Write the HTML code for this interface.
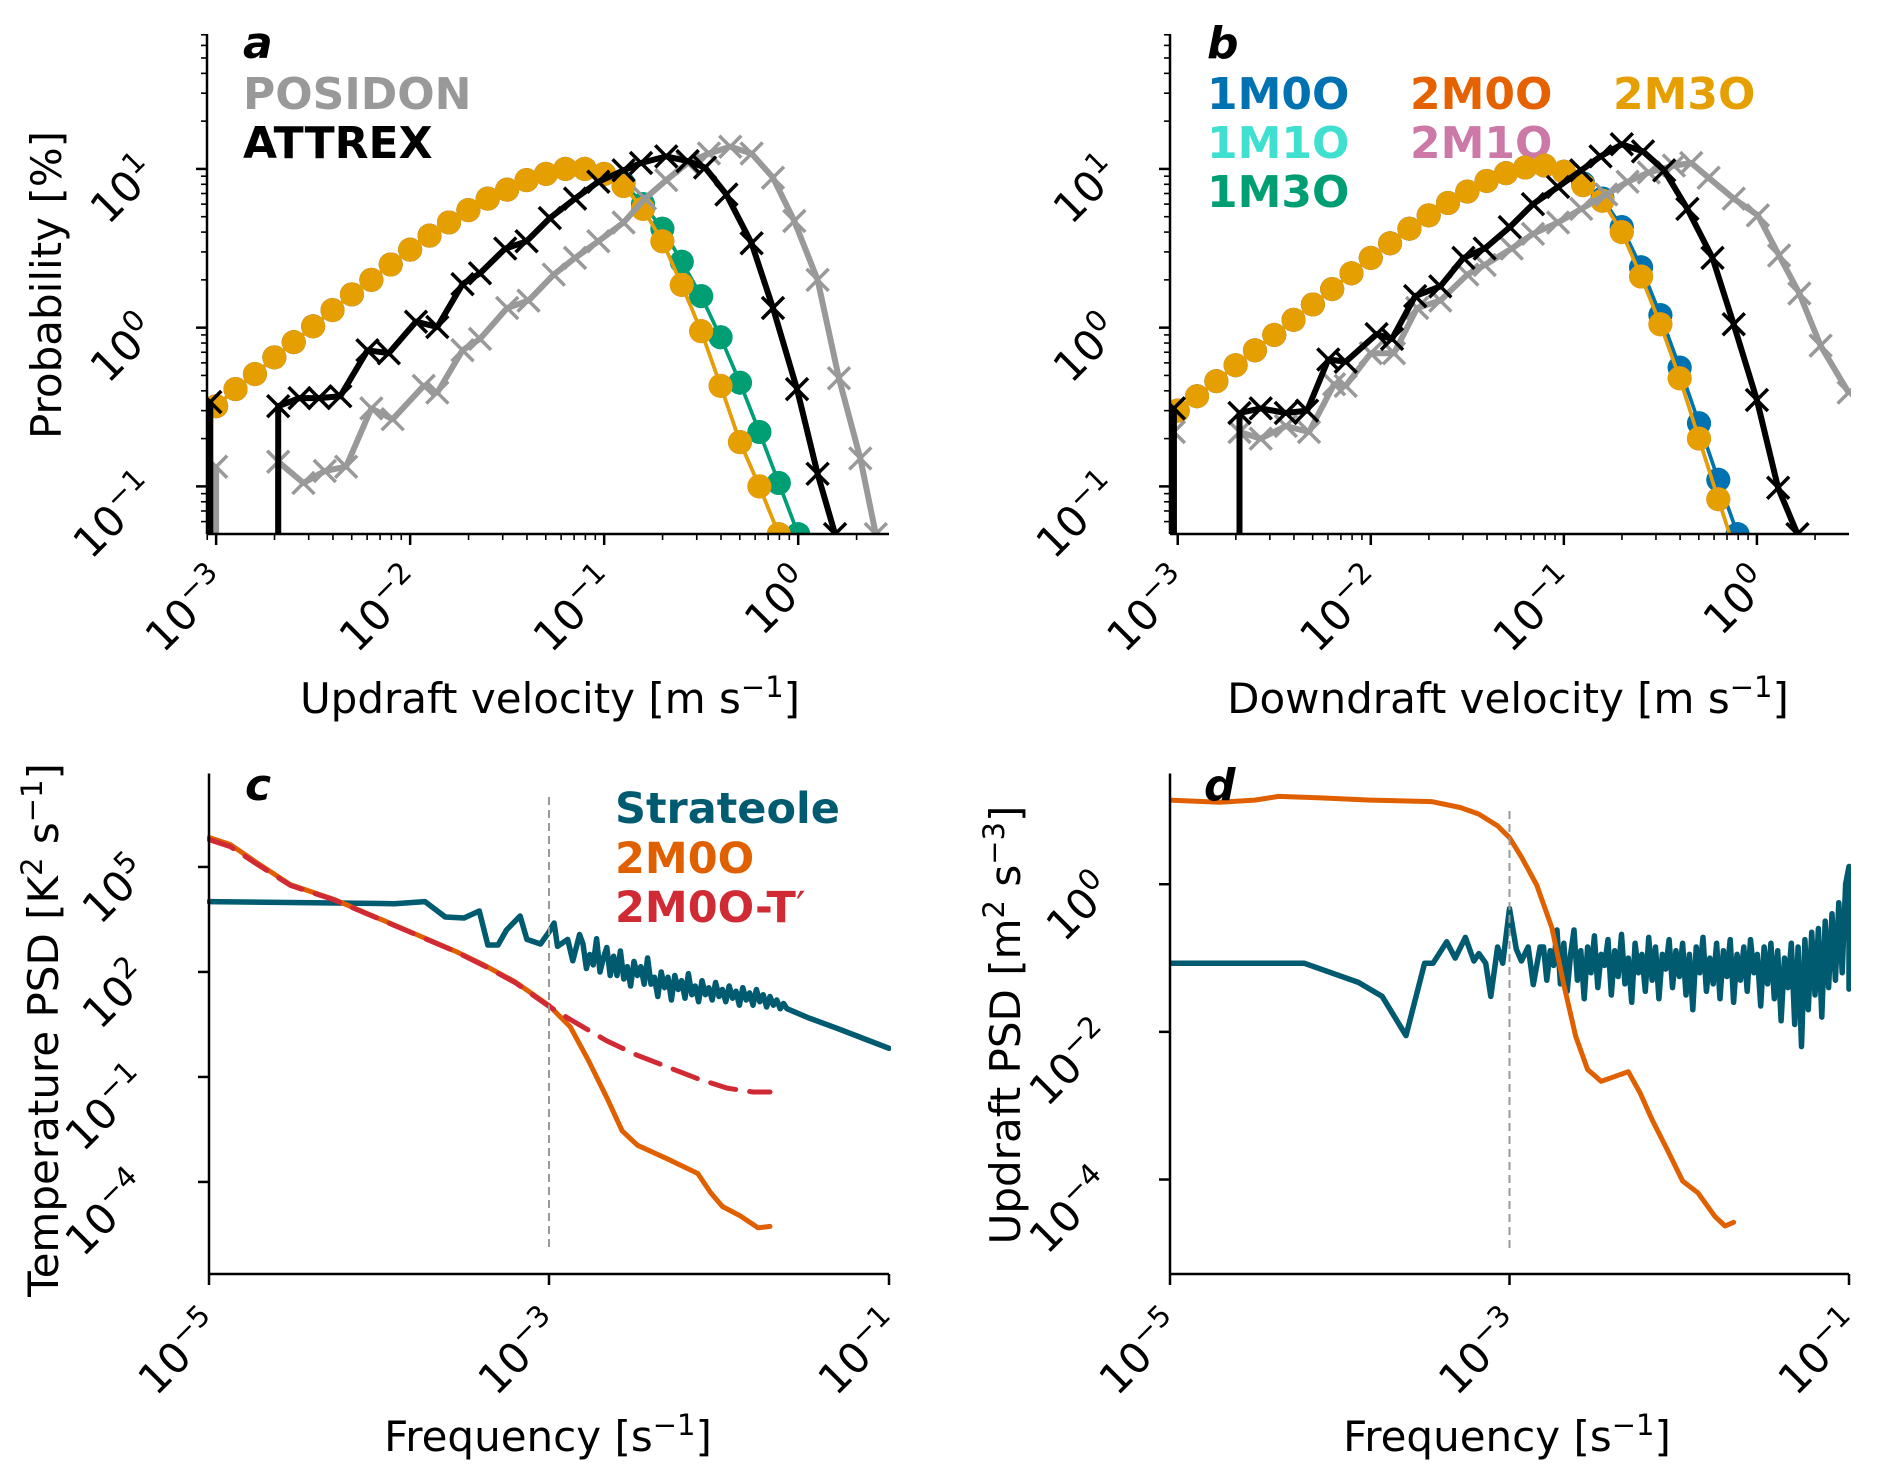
<!DOCTYPE html>
<html><head><meta charset="utf-8"><title>Vertical velocity distributions and PSD</title>
<style>
html,body{margin:0;padding:0;background:#fff;}
svg{display:block;font-family:"DejaVu Sans","Liberation Sans",sans-serif;}
</style></head>
<body>
<svg id="chart" xmlns="http://www.w3.org/2000/svg" width="1892" height="1476" viewBox="0 0 1892 1476">
<rect x="0" y="0" width="1892" height="1476" fill="#fff"/>
<defs>
<clipPath id="clipA"><rect x="207" y="20" width="684" height="514"/></clipPath>
<clipPath id="clipB"><rect x="1170" y="20" width="681" height="514"/></clipPath>
<clipPath id="clipC"><rect x="207" y="760" width="684" height="514"/></clipPath>
<clipPath id="clipD"><rect x="1170" y="760" width="681" height="514"/></clipPath>
</defs>
<text x="243" y="58" font-size="44" font-weight="bold" font-style="italic">a</text>
<text x="243" y="109" font-size="44" font-weight="bold" fill="#999999">POSIDON</text>
<text x="243" y="158" font-size="44" font-weight="bold" fill="#000">ATTREX</text>
<text transform="translate(61,285) rotate(-90)" text-anchor="middle" font-size="42">Probability [%]</text>
<text x="550" y="713" text-anchor="middle" font-size="42">Updraft velocity [m s<tspan dy="-16" font-size="29">−1</tspan><tspan dy="16">]</tspan></text>

<text x="1207" y="58" font-size="44" font-weight="bold" font-style="italic">b</text>
<text x="1207" y="109" font-size="44" font-weight="bold" fill="#0072B2">1M0O</text>
<text x="1410" y="109" font-size="44" font-weight="bold" fill="#E66100">2M0O</text>
<text x="1613" y="109" font-size="44" font-weight="bold" fill="#E69F00">2M3O</text>
<text x="1207" y="158" font-size="44" font-weight="bold" fill="#40E0D0">1M1O</text>
<text x="1410" y="158" font-size="44" font-weight="bold" fill="#CC79A7">2M1O</text>
<text x="1207" y="207" font-size="44" font-weight="bold" fill="#009E73">1M3O</text>
<text x="1508" y="713" text-anchor="middle" font-size="42">Downdraft velocity [m s<tspan dy="-16" font-size="29">−1</tspan><tspan dy="16">]</tspan></text>

<text x="245" y="800" font-size="44" font-weight="bold" font-style="italic">c</text>
<text x="615" y="823" font-size="43" font-weight="bold" fill="#005A70">Strateole</text>
<text x="615" y="873" font-size="43" font-weight="bold" fill="#E06000">2M0O</text>
<text x="615" y="922" font-size="43" font-weight="bold" fill="#D02A35">2M0O-T<tspan font-weight="normal">′</tspan></text>
<text transform="translate(58,1030) rotate(-90)" text-anchor="middle" font-size="42">Temperature PSD [K<tspan dy="-16" font-size="29">2</tspan><tspan dy="16"> s</tspan><tspan dy="-16" font-size="29">−1</tspan><tspan dy="16">]</tspan></text>
<text x="548" y="1451" text-anchor="middle" font-size="42">Frequency [s<tspan dy="-16" font-size="29">−1</tspan><tspan dy="16">]</tspan></text>

<text transform="translate(1020,1025) rotate(-90)" text-anchor="middle" font-size="42">Updraft PSD [m<tspan dy="-16" font-size="29">2</tspan><tspan dy="16"> s</tspan><tspan dy="-16" font-size="29">−3</tspan><tspan dy="16">]</tspan></text>
<text x="1507" y="1451" text-anchor="middle" font-size="42">Frequency [s<tspan dy="-16" font-size="29">−1</tspan><tspan dy="16">]</tspan></text>
</svg>
<script>
// ---------- Panel a/b data (velocity log10 exponents, probability in %) ----------
const modelLogV = [-3.0,-2.9,-2.8,-2.7,-2.6,-2.5,-2.4,-2.3,-2.2,-2.1,-2.0,-1.9,-1.8,-1.7,-1.6,-1.5,-1.4,-1.3,-1.2,-1.1,-1.0,-0.9,-0.8,-0.7,-0.6,-0.5,-0.4,-0.3,-0.2,-0.1,0.0];
const aNarrow = [0.32,0.41,0.51,0.65,0.81,1.02,1.29,1.62,2.0,2.5,3.1,3.8,4.6,5.5,6.5,7.4,8.5,9.3,10,10,9.3,7.8,5.6,3.5,1.86,0.95,0.43,0.19,0.10,0.05];
const aWide = [0.32,0.41,0.51,0.65,0.81,1.02,1.29,1.62,2.0,2.5,3.1,3.8,4.6,5.5,6.5,7.4,8.5,9.3,10,10,9.3,8.1,6.0,4.2,2.6,1.58,0.87,0.45,0.22,0.105,0.05];
const bNarrow = [0.30,0.37,0.46,0.58,0.72,0.9,1.12,1.4,1.75,2.2,2.75,3.4,4.2,5.1,6.1,7.2,8.4,9.4,10.2,10.5,9.6,7.9,6.3,4.0,2.1,1.05,0.48,0.20,0.083,0.035];
const bWide = [0.30,0.37,0.46,0.58,0.72,0.9,1.12,1.4,1.75,2.2,2.75,3.4,4.2,5.1,6.1,7.2,8.4,9.4,10.2,10.5,9.6,8.1,6.5,4.3,2.4,1.2,0.56,0.25,0.11,0.05,0.02];

const attrexALogV = [-3.03,-2.9,-2.8,-2.68,-2.57,-2.47,-2.36,-2.22,-2.11,-1.97,-1.86,-1.73,-1.64,-1.51,-1.40,-1.28,-1.15,-1.03,-0.90,-0.81,-0.68,-0.57,-0.48,-0.37,-0.24,-0.13,-0.006,0.10,0.19];
const attrexAProb = [0.34,0,0,0.32,0.36,0.36,0.37,0.72,0.69,1.09,1.01,1.88,2.2,3.15,3.5,4.9,6.5,8.3,9.8,10.9,12.0,11.2,10.2,6.9,3.4,1.33,0.41,0.12,0.05];
const posidonALogV = [-3.0,-2.9,-2.8,-2.68,-2.55,-2.44,-2.33,-2.20,-2.09,-1.93,-1.86,-1.73,-1.64,-1.50,-1.39,-1.26,-1.15,-1.03,-0.90,-0.79,-0.68,-0.57,-0.46,-0.35,-0.24,-0.13,-0.02,0.10,0.21,0.32,0.40];
const posidonAProb = [0.133,0,0,0.143,0.105,0.125,0.133,0.31,0.265,0.43,0.39,0.72,0.85,1.33,1.48,2.16,2.75,3.5,4.6,6.5,8.5,10.9,12.5,13.8,12.5,8.8,4.7,2.0,0.48,0.15,0.05];
const attrexBLogV = [-3.02,-2.9,-2.8,-2.68,-2.57,-2.44,-2.33,-2.22,-2.13,-1.97,-1.89,-1.77,-1.64,-1.52,-1.41,-1.28,-1.16,-1.03,-0.91,-0.81,-0.70,-0.59,-0.48,-0.36,-0.23,-0.12,0.0,0.11,0.21];
const attrexBProb = [0.31,0,0,0.29,0.31,0.29,0.30,0.63,0.61,0.91,0.85,1.58,1.82,2.75,3.15,4.3,6.0,7.7,9.8,12.0,14.3,12.9,9.8,5.6,2.75,1.05,0.35,0.098,0.05];
const posidonBLogV = [-3.02,-2.9,-2.8,-2.68,-2.57,-2.44,-2.32,-2.19,-2.13,-2.00,-1.88,-1.76,-1.64,-1.50,-1.41,-1.27,-1.16,-1.03,-0.91,-0.78,-0.67,-0.56,-0.43,-0.34,-0.25,-0.12,0.005,0.115,0.22,0.33,0.475];
const posidonBProb = [0.22,0,0,0.22,0.20,0.24,0.22,0.44,0.43,0.69,0.69,1.33,1.48,2.16,2.48,3.15,3.9,4.6,5.6,6.9,8.3,9.5,10.5,10.9,8.8,6.5,5.1,2.85,1.64,0.77,0.39];

// ---------- Panel c/d data (log10 frequency, log10 PSD) ----------
const stratCLogF = [-5.0,-3.91,-3.73,-3.61,-3.50,-3.41,-3.36,-3.30,-3.25,-3.17,-3.13,-3.05,-3.0,-2.97,-2.95,-2.89,-2.86,-2.82,
-2.80,-2.78,-2.76,-2.74,-2.72,-2.70,-2.68,-2.66,-2.64,-2.62,-2.60,-2.58,-2.56,-2.54,-2.52,-2.50,-2.48,-2.46,-2.44,-2.42,
-2.40,-2.38,-2.36,-2.34,-2.32,-2.30,-2.28,-2.26,-2.24,-2.22,-2.20,-2.18,-2.16,-2.14,-2.12,-2.10,-2.08,-2.06,-2.04,-2.02,
-2.00,-1.98,-1.96,-1.94,-1.92,-1.90,-1.88,-1.86,-1.84,-1.82,-1.80,-1.78,-1.76,-1.74,-1.72,-1.70,-1.68,-1.66,-1.64,-1.62,
-1.60,-1.48,-1.30,-1.15,-1.0];
const stratCLogP = [4.01,3.95,4.01,3.57,3.54,3.74,2.77,2.77,3.2,3.6,2.93,2.8,3.14,3.4,2.73,2.93,2.32,3.07,
2.8,2.1,2.5,2.2,2.95,2.0,2.4,2.7,1.9,2.45,1.9,2.6,1.8,2.15,1.6,2.3,1.9,2.15,1.65,2.4,
1.65,1.85,1.3,2.0,1.55,1.85,1.2,1.9,1.5,1.75,1.25,1.95,1.35,1.6,1.15,1.75,1.35,1.55,1.2,1.7,
1.3,1.5,1.15,1.6,1.25,1.45,1.05,1.55,1.2,1.4,1.05,1.5,1.15,1.35,1.0,1.3,1.05,1.2,0.95,1.1,
0.95,0.70,0.38,0.10,-0.18];
const modelCLogF = [-5.0,-4.875,-4.73,-4.52,-4.27,-3.91,-3.55,-3.38,-3.20,-3.0,-2.875,-2.77,-2.66,-2.57,-2.48,-2.30,-2.125,-2.05,-1.98,-1.875,-1.77,-1.70];
const modelCLogP = [5.84,5.64,5.16,4.49,4.08,3.34,2.59,2.19,1.72,1.04,0.43,-0.51,-1.59,-2.54,-2.95,-3.35,-3.76,-4.3,-4.7,-4.97,-5.31,-5.27];
const tprimeCLogF = [-5.0,-4.875,-4.73,-4.52,-4.27,-3.91,-3.55,-3.38,-3.20,-3.0,-2.875,-2.66,-2.48,-2.30,-2.125,-1.95,-1.80,-1.70];
const tprimeCLogP = [5.78,5.58,5.12,4.47,4.07,3.33,2.58,2.17,1.70,1.02,0.64,0.03,-0.38,-0.72,-1.05,-1.32,-1.43,-1.43];

const stratDLogF = [-5.0,-4.21,-3.89,-3.75,-3.61,-3.50,-3.45,-3.37,-3.32,-3.26,-3.21,-3.18,-3.14,-3.11,-3.07,-3.04,-3.0,-2.96,-2.93,-2.89,-2.86,-2.82,
-2.80,-2.78,-2.76,-2.74,-2.72,-2.70,-2.68,-2.66,-2.64,-2.62,-2.60,-2.58,-2.56,-2.54,-2.52,-2.50,-2.48,-2.46,-2.44,-2.42,
-2.40,-2.38,-2.36,-2.34,-2.32,-2.30,-2.28,-2.26,-2.24,-2.22,-2.20,-2.18,-2.16,-2.14,-2.12,-2.10,-2.08,-2.06,-2.04,-2.02,
-2.00,-1.98,-1.96,-1.94,-1.92,-1.90,-1.88,-1.86,-1.84,-1.82,-1.80,-1.78,-1.76,-1.74,-1.72,-1.70,-1.68,-1.66,-1.64,-1.62,
-1.60,-1.58,-1.56,-1.54,-1.52,-1.50,-1.48,-1.46,-1.44,-1.42,-1.40,-1.38,-1.36,-1.34,-1.32,-1.30,-1.28,-1.26,-1.24,-1.22,
-1.20,-1.18,-1.16,-1.14,-1.12,-1.10,-1.08,-1.06,-1.04,-1.02,-1.00,-1.00];
const stratDLogP = [-1.07,-1.07,-1.33,-1.52,-2.05,-1.07,-1.07,-0.78,-1.0,-0.72,-1.04,-0.94,-1.07,-1.52,-0.85,-1.07,-0.33,-0.88,-1.04,-0.85,-1.36,-0.85,
-0.85,-1.30,-0.90,-1.10,-0.62,-1.35,-0.80,-1.45,-0.95,-0.62,-1.30,-0.90,-1.55,-0.85,-1.20,-0.70,-1.40,-0.95,-1.10,-0.75,
-1.50,-0.90,-1.25,-0.68,-1.35,-1.00,-1.60,-0.80,-1.20,-0.95,-1.45,-0.72,-1.30,-0.85,-1.55,-0.95,-1.15,-0.75,-1.40,-0.90,
-1.25,-0.80,-1.50,-0.95,-1.70,-0.85,-1.20,-0.72,-1.45,-1.00,-1.35,-0.80,-1.55,-0.90,-1.25,-0.75,-1.60,-0.95,-1.30,-0.85,
-1.45,-0.75,-1.20,-0.95,-1.65,-0.85,-1.35,-0.80,-1.55,-0.90,-1.85,-1.00,-1.40,-0.80,-1.90,-0.85,-2.20,-0.75,-1.70,-0.65,
-1.50,-0.60,-1.80,-0.50,-1.40,-0.40,-1.30,-0.25,-1.20,0.00,0.24,-1.42];
const modelDLogF = [-5.0,-4.71,-4.5,-4.36,-4.11,-3.82,-3.46,-3.29,-3.18,-3.07,-3.0,-2.93,-2.84,-2.75,-2.68,-2.61,-2.54,-2.46,-2.30,-2.23,-2.16,-2.07,-1.98,-1.89,-1.79,-1.73,-1.68];
const modelDLogP = [1.14,1.11,1.14,1.19,1.17,1.14,1.12,1.04,0.95,0.79,0.63,0.37,-0.01,-0.59,-1.36,-2.06,-2.51,-2.67,-2.54,-2.83,-3.19,-3.6,-4.02,-4.18,-4.5,-4.63,-4.58];

const xTicksAB = [-3,-2,-1,0];
const yTicksAB = [-1,0,1];
const xTicksCD = [-5,-3,-1];
const yTicksC = [5,2,-1,-4];
const yTicksD = [0,-2,-4];
const cutoffLogF = -3;

// ---------- rendering ----------
const NS = 'http://www.w3.org/2000/svg';
const svg = document.getElementById('chart');
function mk(tag, attrs, parent, name, inter) {
  const e = document.createElementNS(NS, tag);
  for (const k in attrs) e.setAttribute(k, attrs[k]);
  
  
  parent.appendChild(e);
  return e;
}
function panel(p) {
  const g = mk('g', {}, svg, 'panel-' + p.id, false);
  p.g = g;
  p.sx = lx => p.x0 + (lx - p.lx0) / (p.lx1 - p.lx0) * (p.x1 - p.x0);
  p.sy = ly => p.y0 + (p.ly0 - ly) / (p.ly0 - p.ly1) * (p.y1 - p.y0);
  p.data = mk('g', {'clip-path': 'url(#' + p.clip + ')'}, g, 'plot-area-' + p.id, false);
  return p;
}
function axes(p, xt, yt, minor, xoff, yoff) {
  const ax = mk('g', {stroke: '#000', fill: 'none'}, p.g, 'axes-' + p.id, false);
  mk('line', {x1: p.x0, y1: p.y0, x2: p.x0, y2: p.y1, 'stroke-width': 2.5}, ax, 'y-axis-line-' + p.id, false);
  mk('line', {x1: p.x0, y1: p.y1, x2: p.x1, y2: p.y1, 'stroke-width': 2.5}, ax, 'x-axis-line-' + p.id, false);
  xt.forEach(e => {
    const x = p.sx(e);
    mk('line', {x1: x, y1: p.y1, x2: x, y2: p.y1 + 11, 'stroke-width': 2.5}, ax, 'x-tick', false);
    tickLabel(p.g, x + xoff[0], p.y1 + xoff[1], e, 'x-tick-label');
  });
  yt.forEach(e => {
    const y = p.sy(e);
    mk('line', {x1: p.x0 - 11, y1: y, x2: p.x0, y2: y, 'stroke-width': 2.5}, ax, 'y-tick', false);
    tickLabel(p.g, p.x0 + yoff[0], y + yoff[1], e, 'y-tick-label');
  });
  if (minor) {
    for (let d = Math.floor(p.lx0); d < p.lx1; d++) for (let m = 2; m <= 9; m++) {
      const lx = d + Math.log10(m);
      if (lx < p.lx0 || lx > p.lx1) continue;
      const x = p.sx(lx);
      mk('line', {x1: x, y1: p.y1, x2: x, y2: p.y1 + 6, 'stroke-width': 1.6}, ax, 'x-minor-tick', false);
    }
    for (let d = Math.floor(p.ly1); d < p.ly0; d++) for (let m = 2; m <= 9; m++) {
      const ly = d + Math.log10(m);
      if (ly < p.ly1 || ly > p.ly0) continue;
      const y = p.sy(ly);
      mk('line', {x1: p.x0 - 6, y1: y, x2: p.x0, y2: y, 'stroke-width': 1.6}, ax, 'y-minor-tick', false);
    }
  }
}
function tickLabel(parent, x, y, e, name) {
  const t = mk('text', {transform: 'translate(' + x + ',' + y + ') rotate(-45)', 'text-anchor': 'end', 'font-size': 42}, parent, name, false);
  t.appendChild(document.createTextNode('10'));
  const s = mk('tspan', {dy: -17, 'font-size': 29}, t, 'tick-exponent', false);
  s.textContent = (e < 0 ? '\u2212' : '') + Math.abs(e);
}
function pathD(p, lxs, ys, isLog) {
  let d = '', down = false, prevX = null;
  const bot = p.y1 + 20;
  for (let i = 0; i < lxs.length; i++) {
    const v = ys[i];
    const x = p.sx(lxs[i]);
    if (!isLog && v <= 0) {
      if (down) d += ' L' + prevX.toFixed(1) + ' ' + bot;
      down = false;
      continue;
    }
    const y = p.sy(isLog ? v : Math.log10(v));
    if (!down) {
      if (d !== '') d += ' M' + x.toFixed(1) + ' ' + bot + ' L' + x.toFixed(1) + ' ' + y.toFixed(1);
      else d += 'M' + x.toFixed(1) + ' ' + y.toFixed(1);
      down = true;
    } else d += ' L' + x.toFixed(1) + ' ' + y.toFixed(1);
    prevX = x;
  }
  return d;
}
function modelSeries(p, vals, color, name) {
  const g = mk('g', {}, p.data, name, false);
  const xs = modelLogV.slice(0, vals.length);
  mk('path', {d: pathD(p, xs, vals, false), stroke: color, 'stroke-width': 3.5, fill: 'none'}, g, name + '-line', false);
  vals.forEach((v, i) => {
    mk('circle', {cx: p.sx(xs[i]), cy: p.sy(Math.log10(v)), r: 12, fill: color}, g, name + '-marker', false);
  });
}
function obsSeries(p, lxs, vals, color, name) {
  const g = mk('g', {}, p.data, name, false);
  mk('path', {d: pathD(p, lxs, vals, false), stroke: color, 'stroke-width': 6, fill: 'none', 'stroke-linejoin': 'round'}, g, name + '-line', false);
  vals.forEach((v, i) => {
    if (v <= 0) return;
    const x = p.sx(lxs[i]), y = p.sy(Math.log10(v)), s = 11;
    mk('path', {d: 'M' + (x - s) + ' ' + (y - s) + ' L' + (x + s) + ' ' + (y + s) + ' M' + (x - s) + ' ' + (y + s) + ' L' + (x + s) + ' ' + (y - s), stroke: color, 'stroke-width': 3.5}, g, name + '-marker', false);
  });
}
function psdSeries(p, lxs, lys, color, name, dash, w) {
  const attrs = {d: pathD(p, lxs, lys, true), stroke: color, 'stroke-width': w || 5, fill: 'none', 'stroke-linejoin': 'round', 'stroke-linecap': 'round'};
  if (dash) attrs['stroke-dasharray'] = dash;
  mk('path', attrs, p.data, name, false);
}

const A = panel({id: 'a', clip: 'clipA', x0: 207, x1: 889, lx0: -3.047, lx1: 0.468, y0: 34, y1: 534, ly0: 1.85, ly1: -1.30});
const B = panel({id: 'b', clip: 'clipB', x0: 1170, x1: 1849, lx0: -3.04, lx1: 0.477, y0: 34, y1: 534, ly0: 1.85, ly1: -1.30});
const C = panel({id: 'c', clip: 'clipC', x0: 209, x1: 889, lx0: -5, lx1: -1, y0: 773.5, y1: 1274, ly0: 7.67, ly1: -6.63});
const D = panel({id: 'd', clip: 'clipD', x0: 1170, x1: 1849, lx0: -5, lx1: -1, y0: 773.5, y1: 1274, ly0: 1.50, ly1: -5.28});

modelSeries(A, aWide, '#0072B2', 'series-a-1m0o');
modelSeries(A, aWide, '#40E0D0', 'series-a-1m1o');
modelSeries(A, aWide, '#009E73', 'series-a-1m3o');
modelSeries(A, aNarrow, '#E66100', 'series-a-2m0o');
modelSeries(A, aNarrow, '#CC79A7', 'series-a-2m1o');
modelSeries(A, aNarrow, '#E69F00', 'series-a-2m3o');
obsSeries(A, posidonALogV, posidonAProb, '#999999', 'series-a-posidon');
obsSeries(A, attrexALogV, attrexAProb, '#000000', 'series-a-attrex');
axes(A, xTicksAB, yTicksAB, true, [15, 52], [-48, 6]);

modelSeries(B, bWide, '#40E0D0', 'series-b-1m1o');
modelSeries(B, bWide, '#009E73', 'series-b-1m3o');
modelSeries(B, bWide, '#0072B2', 'series-b-1m0o');
modelSeries(B, bNarrow, '#E66100', 'series-b-2m0o');
modelSeries(B, bNarrow, '#CC79A7', 'series-b-2m1o');
modelSeries(B, bNarrow, '#E69F00', 'series-b-2m3o');
obsSeries(B, posidonBLogV, posidonBProb, '#999999', 'series-b-posidon');
obsSeries(B, attrexBLogV, attrexBProb, '#000000', 'series-b-attrex');
axes(B, xTicksAB, yTicksAB, true, [15, 52], [-48, 6]);

mk('line', {x1: C.sx(cutoffLogF), y1: 797, x2: C.sx(cutoffLogF), y2: 1252, stroke: '#999', 'stroke-width': 2, 'stroke-dasharray': '8,5'}, C.g, 'cutoff-line-c', false);
psdSeries(C, stratCLogF, stratCLogP, '#005A70', 'series-c-strateole', null, 5.5);
psdSeries(C, modelCLogF, modelCLogP, '#E06000', 'series-c-2m0o', null, 5);
psdSeries(C, tprimeCLogF, tprimeCLogP, '#D02A35', 'series-c-2m0o-tprime', '26,14', 5);
axes(C, xTicksCD, yTicksC, false, [15, 55], [-58, 8]);

mk('line', {x1: D.sx(cutoffLogF), y1: 811, x2: D.sx(cutoffLogF), y2: 1252, stroke: '#999', 'stroke-width': 2, 'stroke-dasharray': '8,5'}, D.g, 'cutoff-line-d', false);
psdSeries(D, stratDLogF, stratDLogP, '#005A70', 'series-d-strateole', null, 5.5);
psdSeries(D, modelDLogF, modelDLogP, '#E06000', 'series-d-2m0o', null, 5);
axes(D, xTicksCD, yTicksD, false, [15, 55], [-55, 8]);
const dLetter = mk('text', {x: 1204, y: 800, 'font-size': 44, 'font-weight': 'bold', 'font-style': 'italic'}, svg, 'panel-d-letter', false);
dLetter.textContent = 'd';
</script>
</body></html>
